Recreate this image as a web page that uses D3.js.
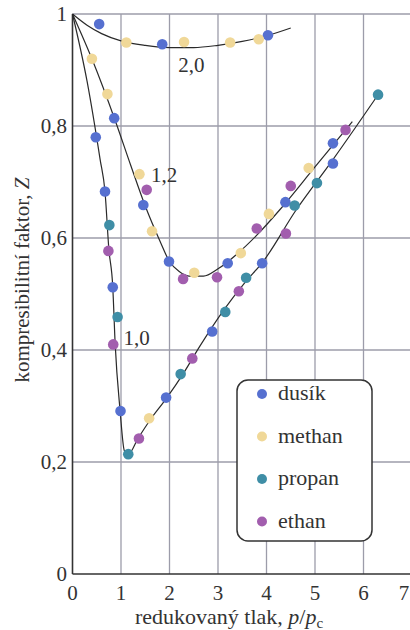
<!DOCTYPE html>
<html>
<head>
<meta charset="utf-8">
<script src="https://cdn.jsdelivr.net/npm/d3@7"></script>
</head>
<body style="margin:0; background:#fff">
<div id="chart"></div>
<script>
// tick values and labels
var xTicks = [0, 1, 2, 3, 4, 5, 6, 7];
var yTicks = [0, 0.2, 0.4, 0.6, 0.8, 1];
var yTickLabels = ["0", "0,2", "0,4", "0,6", "0,8", "1"];

// measured points (reduced pressure, Z)
var dusik = [[0.55, 0.982], [1.85, 0.946], [4.03, 0.962], [0.48, 0.78], [0.86, 0.814], [0.67, 0.683],
  [1.46, 0.659], [0.83, 0.512], [1.99, 0.558], [0.99, 0.291], [1.93, 0.315], [2.88, 0.433],
  [3.2, 0.555], [3.91, 0.555], [4.39, 0.664], [5.37, 0.769], [5.37, 0.733]];
var methan = [[0.40, 0.92], [0.72, 0.857], [1.11, 0.949], [2.30, 0.950], [3.25, 0.949], [3.84, 0.955],
  [1.38, 0.714], [1.64, 0.612], [2.51, 0.538], [3.47, 0.573], [4.05, 0.643], [4.87, 0.725], [1.58, 0.278]];
var propan = [[0.76, 0.623], [0.93, 0.459], [1.15, 0.214], [2.23, 0.357], [3.15, 0.468], [3.58, 0.529],
  [4.58, 0.658], [5.04, 0.698], [6.30, 0.856]];
var ethan = [[1.53, 0.686], [0.74, 0.577], [0.84, 0.41], [1.37, 0.242], [2.47, 0.385], [2.28, 0.527],
  [2.98, 0.530], [3.43, 0.505], [3.80, 0.617], [4.40, 0.608], [4.50, 0.693], [5.63, 0.793]];

var seriesNames = ["dusík", "methan", "propan", "ethan"];
var seriesData = [dusik, methan, propan, ethan];
var seriesColors = ["#5670d0", "#f0d898", "#3f8ea6", "#a25eae"];

// isotherms (T_r = 2,0 / 1,2 / 1,0)
var curve20 = [[0, 1], [0.3, 0.98], [0.6, 0.965], [1.0, 0.952], [1.5, 0.944], [2.0, 0.94], [2.5, 0.94],
  [3.0, 0.944], [3.5, 0.951], [4.0, 0.961], [4.5, 0.975]];
var curve12 = [[0, 1], [0.4, 0.92], [0.9, 0.805], [1.2, 0.73], [1.5, 0.657], [1.8, 0.595], [2.0, 0.558],
  [2.2, 0.54], [2.4, 0.532], [2.7, 0.532], [3.0, 0.545], [3.4, 0.572], [3.8, 0.605], [4.27, 0.65],
  [5.0, 0.727], [5.77, 0.808]];
var curve10 = [[0, 1], [0.3, 0.88], [0.57, 0.74], [0.67, 0.683], [0.75, 0.58], [0.83, 0.513], [0.88, 0.41],
  [0.98, 0.293], [1.07, 0.22], [1.15, 0.214], [1.35, 0.242], [1.6, 0.275], [1.94, 0.314], [2.3, 0.36],
  [2.62, 0.406], [3.14, 0.474], [3.55, 0.52], [3.93, 0.558], [4.61, 0.65], [5.37, 0.74], [6.35, 0.862]];
var curves = [curve20, curve12, curve10];
var curveLabels = [{ text: "2,0", x: 2.18, y: 0.897 }, { text: "1,2", x: 1.62, y: 0.70 }, { text: "1,0", x: 1.05, y: 0.409 }];

var FONT = "'Liberation Serif', serif";
var width = 410, height = 630;
var svg = d3.select("#chart").append("svg")
  .attr("width", width)
  .attr("height", height);

var x = d3.scaleLinear().domain([0, 7]).range([72.5, 412]);
var y = d3.scaleLinear().domain([0, 1]).range([574, 14]);

function label(sel, size) {
  return sel.style("font-family", FONT).style("font-size", size + "px").style("fill", "#333");
}

// grid
svg.append("g").selectAll("line")
  .data(xTicks.filter(function (d) { return d > 0; }))
  .enter().append("line")
  .attr("x1", function (d) { return x(d); })
  .attr("x2", function (d) { return x(d); })
  .attr("y1", y(0)).attr("y2", y(1))
  .attr("stroke", "#9c9caa").attr("stroke-width", 1.3);
svg.append("g").selectAll("line")
  .data(yTicks.filter(function (d) { return d > 0; }))
  .enter().append("line")
  .attr("x1", x(0)).attr("x2", width)
  .attr("y1", function (d) { return y(d); })
  .attr("y2", function (d) { return y(d); })
  .attr("stroke", "#9c9caa").attr("stroke-width", 1.3);

// axes lines
svg.append("line").attr("x1", x(0)).attr("x2", x(0)).attr("y1", y(0)).attr("y2", y(1))
  .attr("stroke", "#333").attr("stroke-width", 1.6);
svg.append("line").attr("x1", x(0)).attr("x2", width).attr("y1", y(0)).attr("y2", y(0))
  .attr("stroke", "#333").attr("stroke-width", 1.6);

// tick labels (last one pulled in so it stays on the page)
label(svg.append("g").selectAll("text")
  .data(xTicks)
  .enter().append("text")
  .attr("x", function (d) { return Math.min(x(d), width - 6); })
  .attr("y", 600)
  .attr("text-anchor", "middle"), 21)
  .text(function (d) { return d; });
label(svg.append("g").selectAll("text")
  .data(yTicks)
  .enter().append("text")
  .attr("x", 67)
  .attr("y", function (d) { return y(d) + 7; })
  .attr("text-anchor", "end"), 21)
  .text(function (d, i) { return yTickLabels[i]; });

// axis titles
var xt = label(svg.append("text")
  .attr("x", 229).attr("y", 624)
  .attr("text-anchor", "middle"), 22);
xt.append("tspan").text("redukovaný tlak, ");
xt.append("tspan").style("font-style", "italic").text("p");
xt.append("tspan").text("/");
xt.append("tspan").style("font-style", "italic").text("p");
xt.append("tspan").attr("dy", 4).style("font-size", "15px").text("c");

var yt = label(svg.append("text")
  .attr("transform", "translate(29,280) rotate(-90)")
  .attr("text-anchor", "middle"), 21);
yt.append("tspan").text("kompresibilitní faktor, ");
yt.append("tspan").style("font-style", "italic").text("Z");

// isotherm curves
var line = d3.line()
  .x(function (d) { return x(d[0]); })
  .y(function (d) { return y(d[1]); })
  .curve(d3.curveMonotoneX);
svg.append("g").selectAll("path")
  .data(curves)
  .enter().append("path")
  .attr("d", line)
  .attr("fill", "none")
  .attr("stroke", "#2a2a2a")
  .attr("stroke-width", 1.2);

label(svg.append("g").selectAll("text")
  .data(curveLabels)
  .enter().append("text")
  .attr("x", function (d) { return x(d.x); })
  .attr("y", function (d) { return y(d.y); }), 21)
  .text(function (d) { return d.text; });

// points
seriesData.forEach(function (pts, i) {
  svg.append("g").selectAll("circle")
    .data(pts)
    .enter().append("circle")
    .attr("cx", function (d) { return x(d[0]); })
    .attr("cy", function (d) { return y(d[1]); })
    .attr("r", 5.3)
    .attr("fill", seriesColors[i]);
});

// legend
var legend = svg.append("g");
legend.append("rect")
  .attr("x", 237).attr("y", 380)
  .attr("width", 135).attr("height", 161)
  .attr("rx", 11).attr("ry", 11)
  .attr("fill", "#fff")
  .attr("stroke", "#333")
  .attr("stroke-width", 1.5);
var item = legend.selectAll("g")
  .data(seriesNames)
  .enter().append("g")
  .attr("transform", function (d, i) { return "translate(262," + (394 + i * 42.5) + ")"; });
item.append("circle")
  .attr("r", 5)
  .attr("fill", function (d, i) { return seriesColors[i]; });
label(item.append("text")
  .attr("x", 16)
  .attr("y", 6), 22)
  .text(function (d) { return d; });
</script>
</body>
</html>
